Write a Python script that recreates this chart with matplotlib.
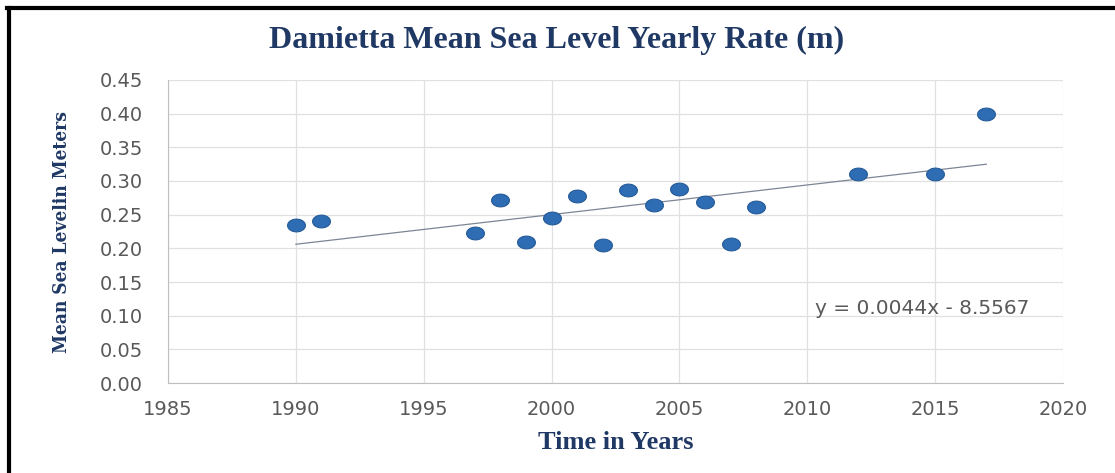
import numpy as np
import matplotlib.pyplot as plt
from matplotlib import font_manager
from matplotlib.lines import Line2D
from matplotlib.path import Path
from matplotlib.markers import MarkerStyle

# yearly mean sea level at Damietta (m)
years = [1990, 1991, 1997, 1998, 1999, 2000, 2001, 2002, 2003,
         2004, 2005, 2006, 2007, 2008, 2012, 2015, 2017]
levels = [0.235, 0.240, 0.223, 0.272, 0.210, 0.245, 0.278, 0.205, 0.286,
          0.264, 0.288, 0.269, 0.207, 0.261, 0.310, 0.310, 0.400]

# linear trend y = a*x + b
slope = 0.0044034
intercept = -8.5567

x_ticks = [1985, 1990, 1995, 2000, 2005, 2010, 2015, 2020]
y_ticks = [0.00, 0.05, 0.10, 0.15, 0.20, 0.25, 0.30, 0.35, 0.40, 0.45]

navy = "#1F3864"
grey_txt = "#595959"

# narrow serif for the vertical axis title
cond = None
for f in font_manager.findSystemFonts():
    if f.endswith("DejaVuSerifCondensed-Bold.ttf"):
        cond = font_manager.FontProperties(fname=f, size=13.7)
        break
if cond is None:
    cond = font_manager.FontProperties(family="Liberation Serif", weight="bold", size=13)

fig = plt.figure(figsize=(11.15, 4.73), dpi=100)
ax = fig.add_axes([168/1115, 90/473, (1063-168)/1115, (383-80)/473])

# slightly flattened dot
t = np.linspace(0, 2*np.pi, 60)
ell = Path(np.column_stack([1.4*np.cos(t), np.sin(t)]), closed=True)
ax.scatter(years, levels, marker=MarkerStyle(ell), s=165, color="#2E6DB4",
           edgecolor="#245A97", linewidth=0.8, zorder=3)

tx = np.array([years[0], years[-1]])
ax.plot(tx, slope*tx + intercept, color="#7D8594", lw=0.9, zorder=2)
ax.text(2014.5, 0.11, f"y = {slope:.4f}x - {abs(intercept):.4f}",
        ha="center", va="center", fontsize=14.5, color=grey_txt,
        family="DejaVu Sans")

ax.set_xlim(1985, 2020)
ax.set_ylim(0, 0.45)
ax.set_xticks(x_ticks)
ax.set_yticks(y_ticks)
ax.set_yticklabels([f"{v:.2f}" for v in y_ticks])
ax.tick_params(length=0, labelsize=14, labelcolor=grey_txt)
ax.tick_params(axis="y", pad=18)
ax.tick_params(axis="x", pad=12)
ax.grid(True, color="#E0E0E0", lw=0.9)
ax.set_axisbelow(True)
for side in ["top", "right"]:
    ax.spines[side].set_visible(False)
for side in ["left", "bottom"]:
    ax.spines[side].set_color("#BFBFBF")

fig.text(557/1115, 1 - 40/473, "Damietta Mean Sea Level Yearly Rate (m)",
         ha="center", va="center", fontsize=23, fontweight="bold",
         color=navy, family="Liberation Serif")
fig.text(616/1115, 1 - 442/473, "Time in Years", ha="center", va="center",
         fontsize=19, fontweight="bold", color=navy, family="Liberation Serif")
fig.text(62/1115, 1 - 232/473, "Mean Sea Levelin Meters", rotation=90,
         ha="center", va="center", fontproperties=cond, color=navy)

# frame on the left and top edges
fig.add_artist(Line2D([8.5/1115, 8.5/1115], [0, 1 - 8/473], color="black", lw=3))
fig.add_artist(Line2D([7/1115, 1], [1 - 8.5/473, 1 - 8.5/473], color="black", lw=3))

fig.savefig("out.png", dpi=100)
